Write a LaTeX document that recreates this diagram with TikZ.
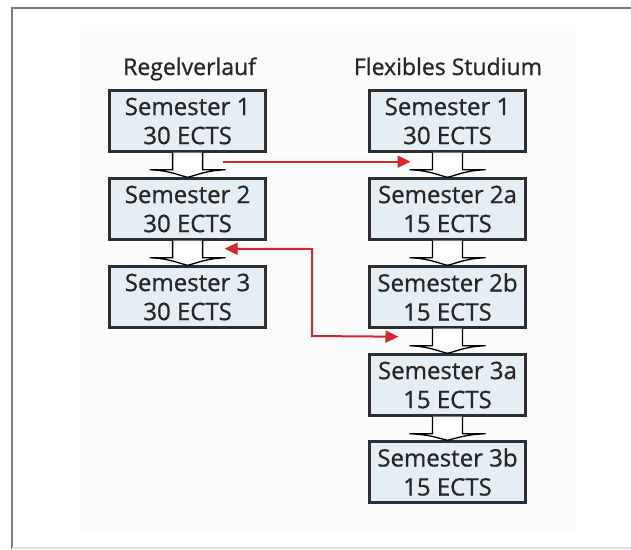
\documentclass[tikz,border=0pt]{standalone}
\usepackage{fontspec}
\setmainfont{Open Sans}
\newfontfamily\semfont{Open Sans}[FakeBold=0.8]
\usetikzlibrary{calc,arrows.meta}
\definecolor{boxfill}{HTML}{E6EEF5}
\definecolor{boxline}{HTML}{2E2E2E}
\definecolor{txt}{HTML}{262626}
\definecolor{redarrow}{HTML}{D8262E}
\definecolor{framegray}{HTML}{7A7A7A}
\definecolor{panel}{HTML}{FCFCFC}
\tikzset{
  sembox/.style={draw=boxline, line width=2.4pt, fill=boxfill, minimum width=156pt, minimum height=61pt,
    inner sep=0pt, align=center, text=txt, font=\semfont\fontsize{24}{29}\selectfont},
  coltitle/.style={anchor=base, text=txt, font=\semfont\fontsize{23}{26}\selectfont},
  hollow/.style={draw=black, fill=white, line width=1.3pt, line join=miter},
  redline/.style={draw=redarrow, line width=2pt, -{Triangle[length=13pt,width=12pt]}},
  redboth/.style={draw=redarrow, line width=2pt, {Triangle[length=13pt,width=12pt]}-{Triangle[length=13pt,width=12pt]}}
}
\newcommand\hollowarrow[2]{%
  \draw[hollow] ($(#1.south)+(-15,0)$) -- ++(0,17) -- ++(-23,0)
    .. controls ++(20,1) and ($(#2.north)+(-12,-3)$) .. (#2.north)
    .. controls ($(#2.north)+(12,-3)$) and ($(#1.south)+(18,18)$) .. ($(#1.south)+(38,17)$)
    -- ++(-23,0) -- ++(0,-17);
}
\begin{document}
\begin{tikzpicture}[x=1pt,y=-1pt]
\useasboundingbox (0,0) rectangle (631,549);
% background panel and frame
\fill[panel] (80,31) rectangle (575,531);
\draw[framegray, line width=2pt] (12,549) -- (12,8) -- (631,8);
\draw[gray!25, line width=1.5pt] (12,548) -- (631,548);
% titles
\node[coltitle] (t1) at (189.6,75) {Regelverlauf};
\node[coltitle] (t2) at (448,75) {Flexibles Studium};
% left column
\node[sembox] (l1) at (187.6,121) {Semester 1\\30 ECTS};
\node[sembox] (l2) at (187.6,209) {Semester 2\\30 ECTS};
\node[sembox] (l3) at (187.6,297) {Semester 3\\30 ECTS};
% right column
\node[sembox] (r1) at (447.5,121) {Semester 1\\30 ECTS};
\node[sembox] (r2) at (447.5,209) {Semester 2a\\15 ECTS};
\node[sembox] (r3) at (447.5,297) {Semester 2b\\15 ECTS};
\node[sembox] (r4) at (447.5,385) {Semester 3a\\15 ECTS};
\node[sembox] (r5) at (447.5,472) {Semester 3b\\15 ECTS};
% hollow arrows
\hollowarrow{l1}{l2}
\hollowarrow{l2}{l3}
\hollowarrow{r1}{r2}
\hollowarrow{r2}{r3}
\hollowarrow{r3}{r4}
\hollowarrow{r4}{r5}
% red arrows
\coordinate (a1s) at ($(l1.south)+(35,9)$);
\coordinate (a1e) at ($(r1.south)+(-37,9)$);
\draw[redline] (a1s) -- (a1e);
\coordinate (a2s) at ($(r3.south)+(-49,8)$);
\coordinate (a2e) at ($(l2.south)+(37,8)$);
\draw[redboth] (a2s) -- (312,336) -- (312,249) -- (a2e);
\end{tikzpicture}
\end{document}
